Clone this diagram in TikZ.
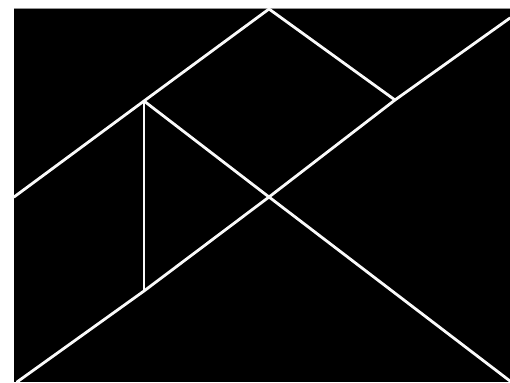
\documentclass[tikz,border=0pt]{standalone}
\usepackage{xcolor}
\usepackage{tikz}
\usetikzlibrary{calc}
\definecolor{boardblack}{RGB}{0,0,0}
\definecolor{cutwhite}{RGB}{250,250,250}
\definecolor{edgegray}{RGB}{150,150,150}

\begin{document}
\begin{tikzpicture}[x=0.02cm, y=-0.02cm, cut/.style={draw=cutwhite, line width=1.6pt, line cap=round}]
        \useasboundingbox (0,0) rectangle (510,382);
        \fill[white] (0,0) rectangle (510,382);
        \fill[boardblack] (14,9) rectangle (510,382);
        \draw[edgegray, line width=0.6pt] (14,8.5) -- (510,8.5);

        % Corners of the pieces
        \coordinate (apex) at (269,9);
        \coordinate (topright) at (510,18);
        \coordinate (leftmid) at (14,197);
        \coordinate (upleft) at (144,101);
        \coordinate (lowleft) at (144,291);
        \coordinate (upright) at (395,100);
        \coordinate (centre) at (269,197);
        \coordinate (botleft) at (17,382);
        \coordinate (botright) at (510,381);

        \draw[cut] (leftmid) -- (upleft) -- (apex) -- (upright);
        \draw[cut] (topright) -- (upright) -- (centre) -- (lowleft) -- (botleft);
        \draw[cut] (upleft) -- (centre) -- (botright);
        \draw[cut] (upleft) -- (lowleft);
      \end{tikzpicture}
\end{document}
